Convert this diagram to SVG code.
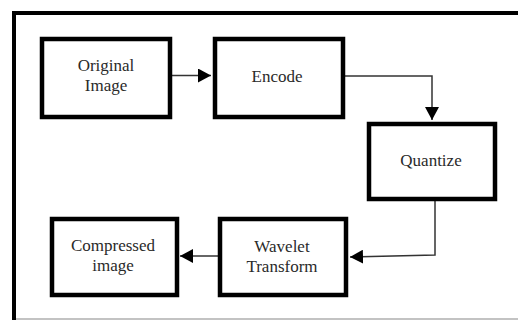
<svg xmlns="http://www.w3.org/2000/svg" width="518" height="320" viewBox="0 0 518 320">
<style>
.box{fill:#fff;stroke:#000;stroke-width:4.5}
.lbl{font-family:"Liberation Serif","Times New Roman",serif;font-size:17px;fill:#2a2a2a;text-anchor:middle}
.conn{fill:none;stroke:#333;stroke-width:1.5}
</style>
<defs>
<marker id="arr" markerUnits="userSpaceOnUse" markerWidth="13" markerHeight="14" refX="13" refY="7" orient="auto">
<path d="M0,0 L13,7 L0,14 Z" fill="#000"/>
</marker>
</defs>
<rect width="518" height="320" fill="#fff"/>
<g id="frame">
<path d="M14,320 V13 H518" fill="none" stroke="#000" stroke-width="4"/>
<line x1="16" y1="319" x2="518" y2="319" stroke="#888" stroke-width="1.2"/>
</g>
<g id="connectors">
<path class="conn" d="M170,75.5 H211" marker-end="url(#arr)"/>
<path class="conn" d="M343,76 H432 V120" marker-end="url(#arr)"/>
<path class="conn" d="M435,200 V255 L350,257" marker-end="url(#arr)"/>
<path class="conn" d="M218,256 H180" marker-end="url(#arr)"/>
</g>
<g id="original">
<rect class="box" x="42" y="39" width="128" height="78"/>
<text class="lbl" x="106" y="71">Original</text>
<text class="lbl" x="106" y="91">Image</text>
</g>
<g id="encode">
<rect class="box" x="215" y="39" width="128" height="78"/>
<text class="lbl" x="277" y="82">Encode</text>
</g>
<g id="quantize">
<rect class="box" x="369" y="124" width="126" height="75"/>
<text class="lbl" x="431" y="166">Quantize</text>
</g>
<g id="wavelet">
<rect class="box" x="220" y="219" width="126" height="76"/>
<text class="lbl" x="282" y="252">Wavelet</text>
<text class="lbl" x="282" y="272">Transform</text>
</g>
<g id="compressed">
<rect class="box" x="52" y="219" width="125" height="76"/>
<text class="lbl" x="113" y="251">Compressed</text>
<text class="lbl" x="113" y="271">image</text>
</g>
</svg>
